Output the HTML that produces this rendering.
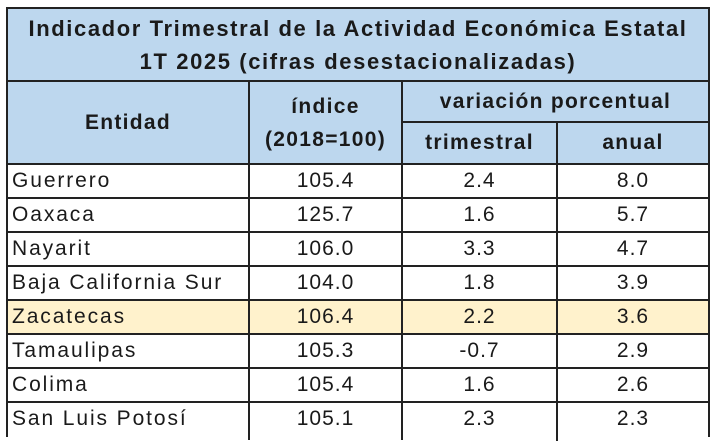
<!DOCTYPE html>
<html><head><meta charset="utf-8"><style>
body{margin:0;width:715px;height:434px;overflow:hidden;background:#fff;font-family:"Liberation Sans",sans-serif;color:#1a1a1a}
.c{position:absolute;box-sizing:border-box;display:flex;align-items:center;justify-content:center;font-size:21px;letter-spacing:1px;white-space:nowrap}
.h{background:#bdd7ee;font-weight:bold;font-size:21px;letter-spacing:1.3px}
.l{justify-content:flex-start;padding-left:5px;letter-spacing:1.9px}
.line{position:absolute;background:#222}
</style></head><body>
<div class="c h" style="left:7px;top:8px;width:702px;height:73px;flex-direction:column;line-height:33px;font-size:22px;letter-spacing:1.6px">
<div>Indicador Trimestral de la Actividad Económica Estatal</div><div>1T 2025 (cifras desestacionalizadas)</div></div>
<div class="c h" style="left:7px;top:81px;width:242px;height:83px">Entidad</div>
<div class="c h" style="left:249px;top:81px;width:153px;height:83px;flex-direction:column;line-height:33px"><div>índice</div><div>(2018=100)</div></div>
<div class="c h" style="left:402px;top:81px;width:307px;height:41px">variación porcentual</div>
<div class="c h" style="left:402px;top:122px;width:155px;height:42px">trimestral</div>
<div class="c h" style="left:557px;top:122px;width:152px;height:42px">anual</div>
<div class="c" style="left:7px;top:300px;width:702px;height:34px;background:#fff2cc"></div>
<div id="rows"></div>
<script>
var d=[["Guerrero","105.4","2.4","8.0"],["Oaxaca","125.7","1.6","5.7"],["Nayarit","106.0","3.3","4.7"],["Baja California Sur","104.0","1.8","3.9"],["Zacatecas","106.4","2.2","3.6"],["Tamaulipas","105.3","-0.7","2.9"],["Colima","105.4","1.6","2.6"],["San Luis Potosí","105.1","2.3","2.3"]];
var h="";
d.forEach(function(r,i){var t=164+i*34;
h+='<div class="c l" style="left:7px;top:'+t+'px;width:242px;height:34px">'+r[0]+'</div>';
h+='<div class="c" style="left:249px;top:'+t+'px;width:153px;height:34px">'+r[1]+'</div>';
h+='<div class="c" style="left:402px;top:'+t+'px;width:155px;height:34px">'+r[2]+'</div>';
h+='<div class="c" style="left:557px;top:'+t+'px;width:152px;height:34px">'+r[3]+'</div>';
h+='<div class="line" style="left:6px;top:'+(t-1)+'px;width:704px;height:2px"></div>';});
h+='<div class="line" style="left:6px;top:7px;width:704px;height:2px"></div>';
h+='<div class="line" style="left:6px;top:80px;width:704px;height:2px"></div>';
h+='<div class="line" style="left:402px;top:121px;width:308px;height:2px"></div>';
h+='<div class="line" style="left:6px;top:7px;width:2px;height:430px"></div>';
h+='<div class="line" style="left:708px;top:7px;width:2px;height:430px"></div>';
h+='<div class="line" style="left:248px;top:80px;width:2px;height:360px"></div>';
h+='<div class="line" style="left:401px;top:80px;width:2px;height:360px"></div>';
h+='<div class="line" style="left:556px;top:121px;width:2px;height:320px"></div>';
document.getElementById("rows").innerHTML=h;
</script>
</body></html>
